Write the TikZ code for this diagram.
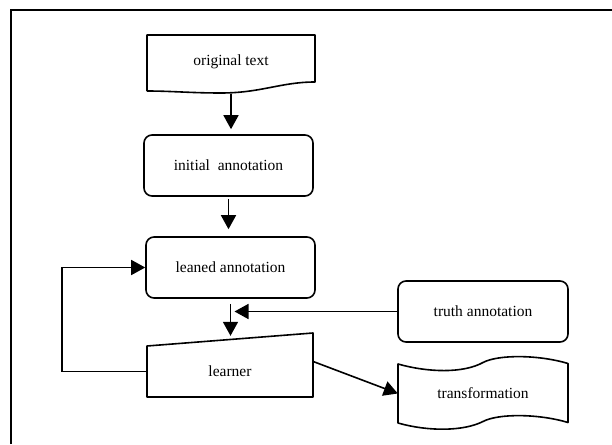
\documentclass[tikz,border=0pt]{standalone}
\usepackage{fontspec}
\setmainfont{Liberation Serif}
\usetikzlibrary{arrows.meta, calc, positioning}

\begin{document}
\begin{tikzpicture}[x=1pt, y=-1pt, font=\fontsize{15.5}{18}\selectfont]
	\def\boxw{169}
	\def\boxh{61}
		\tikzset	{
		stepbox/.style={draw, line width=1.6pt, rounded corners=8pt, minimum width=\boxw pt, minimum height=\boxh pt, inner sep=0pt},
		plainbox/.style={inner sep=0pt},
		outline/.style={draw, line width=1.6pt, line join=round},
		flow/.style={line width=1.6pt, -{Triangle[length=14pt, width=15pt]}},
	}

	\useasboundingbox (0,0) rectangle (612,444);
	\draw[line width=2pt]	(11,444) -- (11,10) -- (612,10);

	\node[plainbox, minimum width=168pt, minimum height=54pt] (orig) at (231,62) {original text};
	\node[stepbox] (init) at (228.5,165.5) {initial\ \ annotation};
	\node[stepbox] (leaned) at (230.5,267.5) {leaned annotation};
	\node[plainbox, minimum width=166pt, minimum height=51pt] (learner) at (230,371.5) {learner};
	\node[stepbox, minimum width=170pt] (truth) at (483,311.5) {truth annotation};
	\node[plainbox, minimum width=170pt, minimum height=59pt] (tran) at (483,393.5) {transformation};

	% document, manual input and tape outlines
	\draw[outline, shift={(orig.center)}]	(-84,29) -- (-84,-27) -- (84,-27) -- (84,20)
		.. controls (50,20) and (30,31) .. (-10,31) .. controls (-40,31) and (-60,29) .. (-84,29);
	\draw[outline, shift={(learner.center)}]	(-83,25.5) -- (-83,-25.5) -- (83,-38.5) -- (83,25.5) -- cycle;
	\draw[outline, shift={(tran.center)}]	(-85,-29.5) .. controls (-55,-21) and (-20,-20) .. (0,-31)
		.. controls (15,-39) and (55,-39) .. (85,-30) -- (85,29)
		.. controls (55,20) and (15,20) .. (0,28) .. controls (-20,38) and (-55,38) .. (-85,29.5) -- cycle;

	\draw[flow, shorten <=5pt, shorten >=5pt]	(orig.south) -- (orig.south |- init.north);
	\draw[flow, shorten <=2pt, shorten >=7pt]	(init.south) -- (init.south |- leaned.north);
	\draw[flow, shorten <=5pt, shorten >=10pt]	(leaned.south) -- (leaned.south |- learner.north);
	\draw[flow, shorten >=4pt]	(truth.west) -- (leaned.south |- truth.west);
	\draw[flow]	(learner.west) -- ++(-85,0) |- (leaned.west);
	\draw[flow]	($(learner.east)+(0,-10)$) -- (tran.west);
\end{tikzpicture}
\end{document}
